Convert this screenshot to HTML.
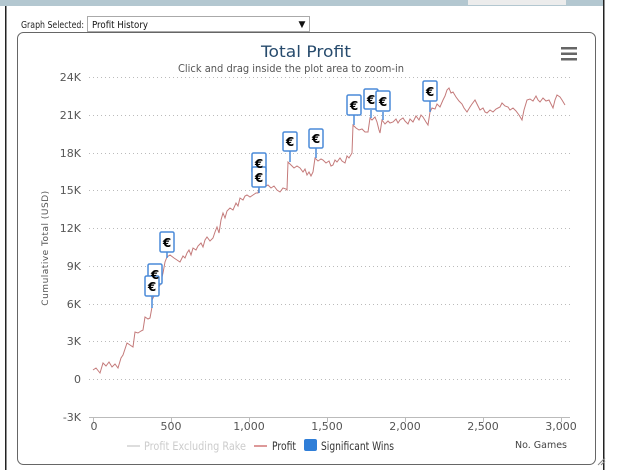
<!DOCTYPE html>
<html><head><meta charset="utf-8"><style>
body{margin:0;width:620px;height:476px;background:#fff;overflow:hidden;font-family:"DejaVu Sans","Liberation Sans",sans-serif}
</style></head><body>
<svg width="620" height="476" xmlns="http://www.w3.org/2000/svg" style="position:absolute;left:0;top:0">
<rect x="0" y="0" width="604" height="6" fill="#b3c7d0"/>
<rect x="468" y="0" width="98" height="5" fill="#ececec"/>
<rect x="5" y="6" width="1.5" height="464" fill="#222"/>
<rect x="603" y="0" width="1.5" height="470" fill="#222"/>
<text x="21" y="28" font-size="10" fill="#222" textLength="63" lengthAdjust="spacingAndGlyphs">Graph Selected:</text>
<rect x="87.5" y="16.5" width="222" height="15" fill="#fff" stroke="#aaa"/>
<text x="92" y="28" font-size="10" fill="#111" textLength="56" lengthAdjust="spacingAndGlyphs">Profit History</text>
<text x="302" y="27" font-size="9" fill="#111" text-anchor="middle">▼</text>
<rect x="17.5" y="32.5" width="578" height="432" rx="6" fill="#fff" stroke="#666"/>
<text x="306" y="57" font-size="16" fill="#274b6d" text-anchor="middle" textLength="90" lengthAdjust="spacingAndGlyphs">Total Profit</text>
<text x="291" y="72" font-size="11" fill="#555" text-anchor="middle" textLength="226" lengthAdjust="spacingAndGlyphs">Click and drag inside the plot area to zoom-in</text>
<g fill="#666"><rect x="561" y="47" width="16" height="2.5"/><rect x="561" y="52.5" width="16" height="2.5"/><rect x="561" y="58" width="16" height="2.5"/></g>
<g stroke="#bbb" stroke-dasharray="1,3" stroke-width="1">
<line x1="89" x2="570" y1="77.5" y2="77.5"/><line x1="89" x2="570" y1="115.5" y2="115.5"/><line x1="89" x2="570" y1="153.5" y2="153.5"/><line x1="89" x2="570" y1="190.5" y2="190.5"/><line x1="89" x2="570" y1="228.5" y2="228.5"/><line x1="89" x2="570" y1="266.5" y2="266.5"/><line x1="89" x2="570" y1="304.5" y2="304.5"/><line x1="89" x2="570" y1="341.5" y2="341.5"/><line x1="89" x2="570" y1="379.5" y2="379.5"/>
</g>
<line x1="89" x2="570" y1="417.5" y2="417.5" stroke="#bbb"/>
<g stroke="#bbb"><line x1="93.5" x2="93.5" y1="417" y2="422"/><line x1="171.5" x2="171.5" y1="417" y2="422"/><line x1="249.5" x2="249.5" y1="417" y2="422"/><line x1="327.5" x2="327.5" y1="417" y2="422"/><line x1="405.5" x2="405.5" y1="417" y2="422"/><line x1="483.5" x2="483.5" y1="417" y2="422"/><line x1="561.5" x2="561.5" y1="417" y2="422"/></g>
<g font-size="11" fill="#555" text-anchor="end">
<text x="81" y="81">24K</text><text x="81" y="119">21K</text><text x="81" y="157">18K</text><text x="81" y="194">15K</text><text x="81" y="232">12K</text><text x="81" y="270">9K</text><text x="81" y="308">6K</text><text x="81" y="345">3K</text><text x="81" y="383">0</text><text x="81" y="421">-3K</text>
</g>
<g font-size="11" fill="#555" text-anchor="middle">
<text x="94" y="430">0</text><text x="171" y="430">500</text><text x="249" y="430">1,000</text><text x="327" y="430">1,500</text><text x="405" y="430">2,000</text><text x="483" y="430">2,500</text><text x="561" y="430">3,000</text>
</g>
<text transform="translate(48,248) rotate(-90)" font-size="9" fill="#555" text-anchor="middle" letter-spacing="0.5">Cumulative Total (USD)</text>
<polyline fill="none" stroke="#c47a7a" stroke-width="1" points="93,370 96,368 100,373 103,363 106,366 109,362 112,367 115,364 118,368 121,358 123,355 125,349 127,343 130,345 133,347 135,332 138,333 141,331 143,330 145,317 148,319 150,318 152,307 152,300 155,294 157,290 160,285 163,273 165,262 167,257 170,255 174,258 177,260 180,262 183,256 185,258 187,253 189,250 191,255 193,248 196,250 198,246 201,243 203,247 205,240 207,237 210,241 213,238 215,232 217,227 219,233 221,220 223,213 225,218 227,211 230,208 233,210 236,203 238,206 240,198 243,200 245,196 247,195 250,197 253,195 256,193 258,193 260,183 263,185 266,186 268,185 271,188 274,186 277,190 280,192 283,188 286,189 287,190 288,162 291,165 294,168 297,166 300,168 303,172 305,169 307,175 309,172 311,176 313,172 315,158 318,161 321,159 323,160 326,163 329,161 331,166 333,165 335,160 337,162 340,158 342,161 345,163 347,156 349,158 352,153 353,125 356,128 359,130 362,129 365,132 368,132 370,118 372,120 375,117 377,122 379,130 380,133 382,120 385,124 388,121 390,123 393,122 396,119 398,123 400,120 403,118 405,121 408,124 410,119 413,122 416,116 419,120 421,115 423,117 426,122 428,125 430,112 432,108 435,109 437,104 440,107 443,100 445,96 447,90 449,88 451,93 453,92 456,97 459,101 462,104 464,108 467,112 470,107 472,104 475,100 478,106 480,110 483,108 485,112 487,113 490,110 493,112 496,109 498,108 500,107 502,103 505,106 508,107 510,110 513,108 516,111 519,115 522,120 524,110 527,100 530,99 533,101 536,96 538,100 540,102 543,98 546,101 549,100 551,104 553,108 555,100 557,95 560,97 562,100 565,105"/>
<g stroke="#4a8ad8" stroke-width="1.5" fill="#fff">
<line x1="152" y1="296" x2="152" y2="308"/><line x1="167" y1="252" x2="167" y2="258"/><line x1="259" y1="187" x2="259" y2="193"/><line x1="290" y1="151" x2="290" y2="162"/><line x1="316" y1="148" x2="316" y2="158"/><line x1="354" y1="115" x2="354" y2="125"/><line x1="371" y1="110" x2="371" y2="118"/><line x1="383" y1="112" x2="383" y2="120"/><line x1="430" y1="101" x2="430" y2="112"/>
<rect x="148" y="264" width="14" height="20" rx="1.5"/>
<rect x="145" y="276" width="14" height="20" rx="1.5"/>
<rect x="160" y="232" width="14" height="20" rx="1.5"/>
<rect x="252" y="153" width="14" height="20" rx="1.5"/>
<rect x="252" y="167" width="14" height="20" rx="1.5"/>
<rect x="283" y="132" width="14" height="19" rx="1.5"/>
<rect x="309" y="129" width="14" height="19" rx="1.5"/>
<rect x="347" y="95" width="14" height="20" rx="1.5"/>
<rect x="364" y="89" width="14" height="20" rx="1.5"/>
<rect x="376" y="91" width="14" height="20" rx="1.5"/>
<rect x="423" y="81" width="14" height="20" rx="1.5"/>
</g>
<g font-size="12" font-weight="bold" fill="#000" text-anchor="middle">
<text x="155" y="279">€</text><text x="152" y="291">€</text><text x="167" y="247">€</text><text x="259" y="168">€</text><text x="259" y="182">€</text><text x="290" y="146">€</text><text x="316" y="143">€</text><text x="354" y="110">€</text><text x="371" y="104">€</text><text x="383" y="106">€</text><text x="430" y="96">€</text>
</g>
<line x1="127" y1="446" x2="140" y2="446" stroke="#ddd" stroke-width="2"/>
<text x="144" y="450" font-size="11.5" fill="#ccc" textLength="102" lengthAdjust="spacingAndGlyphs">Profit Excluding Rake</text>
<line x1="254" y1="446" x2="267" y2="446" stroke="#d99" stroke-width="2"/>
<text x="272" y="450" font-size="11.5" fill="#333" textLength="24" lengthAdjust="spacingAndGlyphs">Profit</text>
<rect x="304" y="439" width="13" height="12" rx="2" fill="#2f7ed8"/>
<text x="321" y="450" font-size="11.5" fill="#333" textLength="73" lengthAdjust="spacingAndGlyphs">Significant Wins</text>
<text x="515" y="448" font-size="9.5" fill="#444" textLength="52" lengthAdjust="spacingAndGlyphs">No. Games</text>
<g stroke="#888"><line x1="598" y1="465" x2="605" y2="458"/><line x1="601" y1="465" x2="605" y2="461"/></g>
</svg>
</body></html>
